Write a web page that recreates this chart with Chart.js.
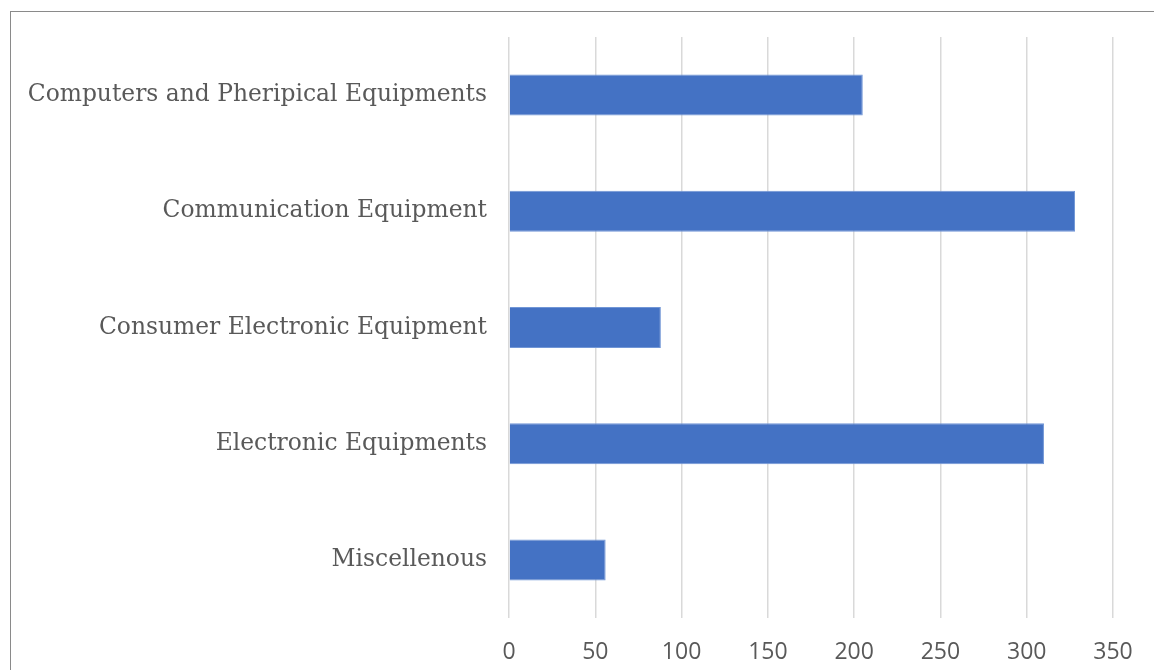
<!DOCTYPE html>
<html>
<head>
<meta charset="utf-8">
<script src="https://cdn.jsdelivr.net/npm/chart.js@4"></script>
<style>
  html, body { margin: 0; padding: 0; background: #fff; overflow: hidden; }
  #wrap { position: relative; width: 1154px; height: 670px; }
  #frame { position: absolute; left: 10px; top: 11px; width: 1200px; height: 700px;
           border-left: 1px solid #8a8a8a; border-top: 1px solid #8a8a8a; }
  canvas { position: absolute; left: 0; top: 0; }
</style>
</head>
<body>
<div id="wrap">
  <div id="frame"></div>
  <canvas id="barChart" width="1154" height="670"></canvas>
</div>
<script>
const categories = [
  'Computers and Pheripical Equipments',
  'Communication Equipment',
  'Consumer Electronic Equipment',
  'Electronic Equipments',
  'Miscellenous'
];
const values = [205, 328, 88, 310, 56];
const xTicks = [0, 50, 100, 150, 200, 250, 300, 350];

const ctx = document.getElementById('barChart').getContext('2d');
new Chart(ctx, {
  type: 'bar',
  data: {
    labels: categories,
    datasets: [{
      data: values,
      backgroundColor: '#4472C4',
      borderColor: '#7196d6',
      borderWidth: 1,
      barPercentage: 0.5,
      categoryPercentage: 0.706
    }]
  },
  options: {
    indexAxis: 'y',
    responsive: false,
    animation: false,
    layout: {padding: {left: 0, right: 41, top: 37, bottom: 0}},
    plugins: {legend: {display: false}, tooltip: {enabled: false}},
    scales: {
      x: {
        min: 0, max: 350,
        afterBuildTicks: s => { s.ticks = xTicks.map(v => ({value: v})); },
        afterFit: s => { s.height = 52; },
        grid: {color: '#d9d9d9', lineWidth: 1.5, drawTicks: false},
        border: {display: false},
        ticks: {color: '#595959', padding: 21, font: {family: 'Open Sans', size: 23}}
      },
      y: {
        afterFit: s => { s.width = 509; },
        grid: {display: false, drawTicks: false},
        border: {display: false},
        ticks: {color: '#595959', padding: 22, font: {family: 'DejaVu Serif', size: 23.4}}
      }
    }
  }
});
</script>
</body>
</html>
